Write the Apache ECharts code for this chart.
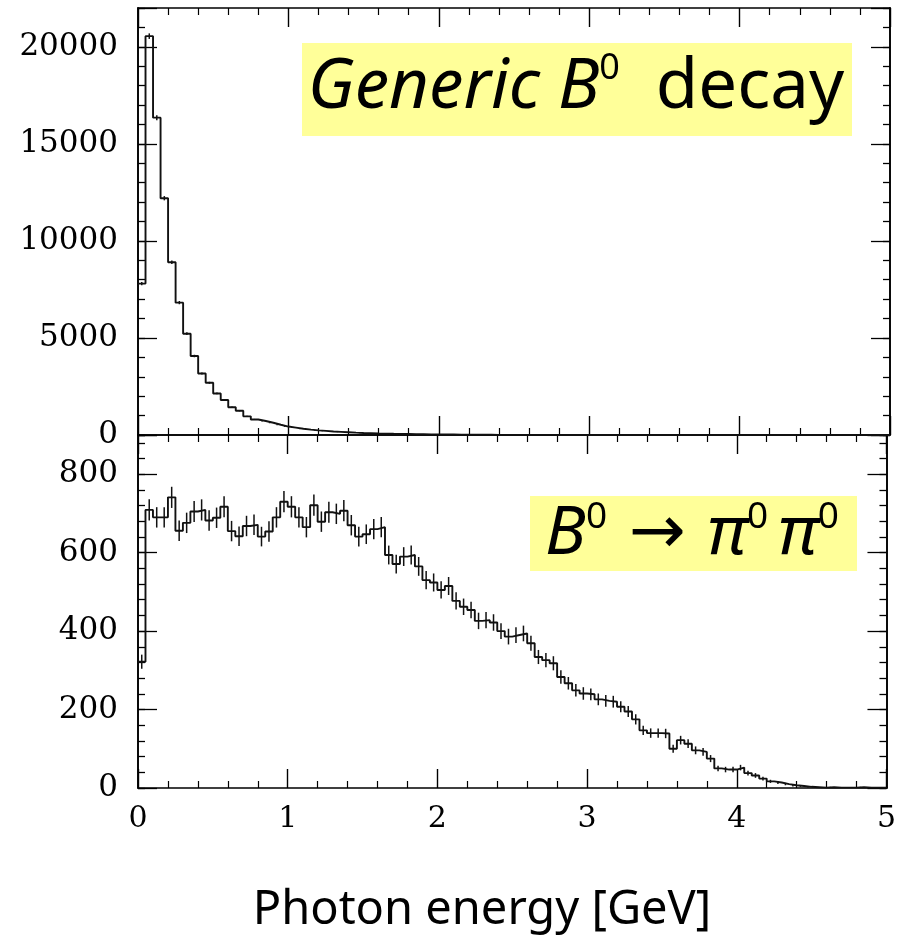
<!DOCTYPE html>
<html><head><meta charset="utf-8">
<script src="https://cdn.jsdelivr.net/npm/echarts@6/dist/echarts.min.js"></script>
<style>html,body{margin:0;padding:0;background:#fff}#c{width:899px;height:943px}</style>
</head><body><div id="c"></div>
<script>
// ---- data ----
const binWidth = 0.05; // GeV, 100 bins from 0 to 5 GeV
const xTickLabels = ['0', '1', '2', '3', '4', '5'];
const topTickLabels = ['0', '5000', '10000', '15000', '20000'];
const bottomTickLabels = ['0', '200', '400', '600', '800'];
const xTitle = 'Photon energy [GeV]';

const topCounts = [
  7800, 20550, 16350, 12200, 8900, 6820, 5220, 4070, 3170, 2690,
  2140, 1800, 1430, 1250, 960, 800, 720, 630, 530, 435,
  380, 320, 275, 240, 210, 180, 160, 140, 120, 105,
  92, 80, 70, 62, 55, 48, 42, 37, 32, 28,
  25, 22, 19, 16, 14, 12, 10, 9, 8, 7,
  6, 5, 5, 4, 4, 3, 3, 3, 2, 2,
  2, 2, 2, 1, 1, 1, 1, 1, 1, 1,
  1, 1, 1, 1, 1, 1, 1, 1, 1, 1,
  1, 1, 1, 1, 1, 1, 1, 1, 1, 1,
  1, 1, 1, 1, 1, 1, 1, 1, 1, 1
];
const topErrors = [
  88, 143, 128, 110, 94, 83, 72, 64, 56, 52,
  46, 42, 38, 35, 31, 28, 27, 25, 23, 21,
  19, 18, 17, 15, 14, 13, 13, 12, 11, 10,
  10, 9, 8, 8, 7, 7, 6, 6, 6, 5,
  5, 5, 4, 4, 4, 3, 3, 3, 3, 3,
  2, 2, 2, 2, 2, 2, 2, 2, 1, 1,
  1, 1, 1, 1, 1, 1, 1, 1, 1, 1,
  1, 1, 1, 1, 1, 1, 1, 1, 1, 1,
  1, 1, 1, 1, 1, 1, 1, 1, 1, 1,
  1, 1, 1, 1, 1, 1, 1, 1, 1, 1
];
const bottomCounts = [
  322, 709, 690, 690, 741, 656, 676, 705, 709, 682,
  689, 717, 655, 642, 668, 671, 641, 654, 690, 730,
  717, 690, 665, 721, 679, 703, 699, 707, 670, 641,
  647, 660, 665, 594, 571, 590, 594, 565, 530, 524,
  505, 515, 477, 462, 454, 426, 428, 422, 400, 386,
  390, 394, 369, 334, 326, 318, 283, 267, 249, 241,
  239, 226, 222, 220, 207, 195, 175, 147, 140, 140,
  139, 100, 122, 113, 96, 92, 75, 50, 47, 47,
  52, 38, 32, 24, 17, 14, 10, 7, 5, 3,
  2, 1, 2, 1, 1, 1, 2, 1, 1, 1
];
const bottomErrors = [
  18, 27, 26, 26, 27, 26, 26, 27, 27, 26,
  26, 27, 26, 25, 26, 26, 25, 26, 26, 27,
  27, 26, 26, 27, 26, 27, 26, 27, 26, 25,
  25, 26, 26, 24, 24, 24, 24, 24, 23, 23,
  22, 23, 22, 21, 21, 21, 21, 21, 20, 20,
  20, 20, 19, 18, 18, 18, 17, 16, 16, 16,
  15, 15, 15, 15, 14, 14, 13, 12, 12, 12,
  12, 10, 11, 11, 10, 10, 9, 7, 7, 7,
  7, 6, 6, 5, 4, 4, 3, 3, 2, 2,
  1, 1, 1, 1, 1, 1, 1, 1, 1, 1
];

// ---- helpers ----
function stepData(counts) {
  const d = counts.map((v, i) => [i * binWidth, v]);
  d.push([counts.length * binWidth, counts[counts.length - 1]]);
  return d;
}
function errData(counts, errs) {
  return counts.map((v, i) => [(i + 0.5) * binWidth, Math.max(0, v - errs[i]), v + errs[i]]);
}
const INK = '#111';
const axisLine = { show: true, onZero: false, lineStyle: { color: '#000', width: 1.6 } };
const serif = 'DejaVu Serif';

function xAx(grid, pos, labels) {
  return {
    type: 'value', gridIndex: grid, position: pos, min: 0, max: 5, interval: 1,
    axisLine: axisLine,
    axisTick: { show: true, inside: true, length: 19, lineStyle: { color: '#000', width: 1.4 } },
    minorTick: { show: true, splitNumber: 5, length: 7, lineStyle: { color: '#000', width: 1.2 } },
    splitLine: { show: false },
    axisLabel: labels ? {
      show: true, margin: 16, color: '#000', fontFamily: serif, fontSize: 30,
      formatter: v => xTickLabels[Math.round(v)] ?? ''
    } : { show: false }
  };
}
function yAx(grid, pos, max, interval, tickLen, labels, labelList) {
  return {
    type: 'value', gridIndex: grid, position: pos, min: 0, max: max, interval: interval,
    axisLine: axisLine,
    axisTick: { show: true, inside: true, length: tickLen, lineStyle: { color: '#000', width: 1.3 } },
    splitLine: { show: false },
    axisLabel: labels ? {
      show: true, margin: 20, color: '#000', fontFamily: serif, fontSize: 31,
      formatter: v => labelList.includes(String(v)) ? String(v) : ''
    } : { show: false }
  };
}
function errorRender(params, api) {
  const x = api.value(0);
  const p1 = api.coord([x, api.value(1)]);
  const p2 = api.coord([x, api.value(2)]);
  return {
    type: 'line',
    shape: { x1: p1[0], y1: p1[1], x2: p2[0], y2: p2[1] },
    style: { stroke: INK, lineWidth: 1.5 }
  };
}

const chart = echarts.init(document.getElementById('c'), null, { renderer: 'canvas' });
chart.setOption({
  animation: false,
  backgroundColor: '#fff',
  grid: [
    { left: 138, right: 9, top: 8, height: 427, containLabel: false },
    { left: 138, right: 9, top: 435, height: 353, containLabel: false }
  ],
  xAxis: [
    xAx(0, 'bottom', false),
    xAx(0, 'top', false),
    xAx(1, 'bottom', true),
    xAx(1, 'top', false)
  ],
  yAxis: [
    yAx(0, 'left', 22000, 1000, 7, false),
    yAx(0, 'left', 22000, 5000, 19, true, topTickLabels),
    yAx(0, 'right', 22000, 1000, 7, false),
    yAx(0, 'right', 22000, 5000, 19, false),
    yAx(1, 'left', 900, 40, 7, false),
    yAx(1, 'left', 900, 200, 19, true, bottomTickLabels),
    yAx(1, 'right', 900, 40, 7, false),
    yAx(1, 'right', 900, 200, 19, false)
  ],
  series: [
    {
      type: 'line', xAxisIndex: 0, yAxisIndex: 0, step: 'end', symbol: 'none',
      data: stepData(topCounts), lineStyle: { color: INK, width: 1.9 }
    },
    {
      type: 'custom', xAxisIndex: 0, yAxisIndex: 0, renderItem: errorRender,
      encode: { x: 0, y: [1, 2] }, data: errData(topCounts, topErrors)
    },
    {
      type: 'line', xAxisIndex: 2, yAxisIndex: 4, step: 'end', symbol: 'none',
      data: stepData(bottomCounts), lineStyle: { color: INK, width: 1.9 }
    },
    {
      type: 'custom', xAxisIndex: 2, yAxisIndex: 4, renderItem: errorRender,
      encode: { x: 0, y: [1, 2] }, data: errData(bottomCounts, bottomErrors)
    }
  ],
  graphic: [
    { type: 'rect', z: 10, shape: { x: 302, y: 43, width: 550, height: 93 }, style: { fill: '#ffff99' } },
    {
      type: 'text', z: 11, x: 576, y: 88,
      style: {
        text: '{i|Generic }{i|B}{s|0}{n|  decay}',
        align: 'center', verticalAlign: 'middle',
        rich: {
          i: { fontFamily: 'Noto Sans', fontStyle: 'italic', fontSize: 69, lineHeight: 74, fill: '#000' },
          n: { fontFamily: 'Noto Sans', fontSize: 69, lineHeight: 74, fill: '#000' },
          s: { fontFamily: 'Noto Sans', fontSize: 36, lineHeight: 36, verticalAlign: 'top', fill: '#000' }
        }
      }
    },
    { type: 'rect', z: 10, shape: { x: 530, y: 496, width: 327, height: 75 }, style: { fill: '#ffff99' } },
    {
      type: 'text', z: 11, x: 692, y: 535,
      style: {
        text: '{i|B}{s|0}{n| \u2192 }{i|\u03c0}{s|0 }{i|\u03c0}{s|0}',
        align: 'center', verticalAlign: 'middle',
        rich: {
          i: { fontFamily: 'Noto Sans', fontStyle: 'italic', fontSize: 68, lineHeight: 72, fill: '#000' },
          n: { fontFamily: 'DejaVu Sans', fontSize: 68, lineHeight: 72, fill: '#000' },
          s: { fontFamily: 'Noto Sans', fontSize: 37, lineHeight: 37, verticalAlign: 'top', fill: '#000' }
        }
      }
    },
    {
      type: 'text', z: 11, x: 482, y: 911,
      style: {
        text: xTitle, align: 'center', verticalAlign: 'middle',
        fontFamily: 'Noto Sans', fontSize: 47, fill: '#000'
      }
    }
  ]
});
</script>
</body></html>
